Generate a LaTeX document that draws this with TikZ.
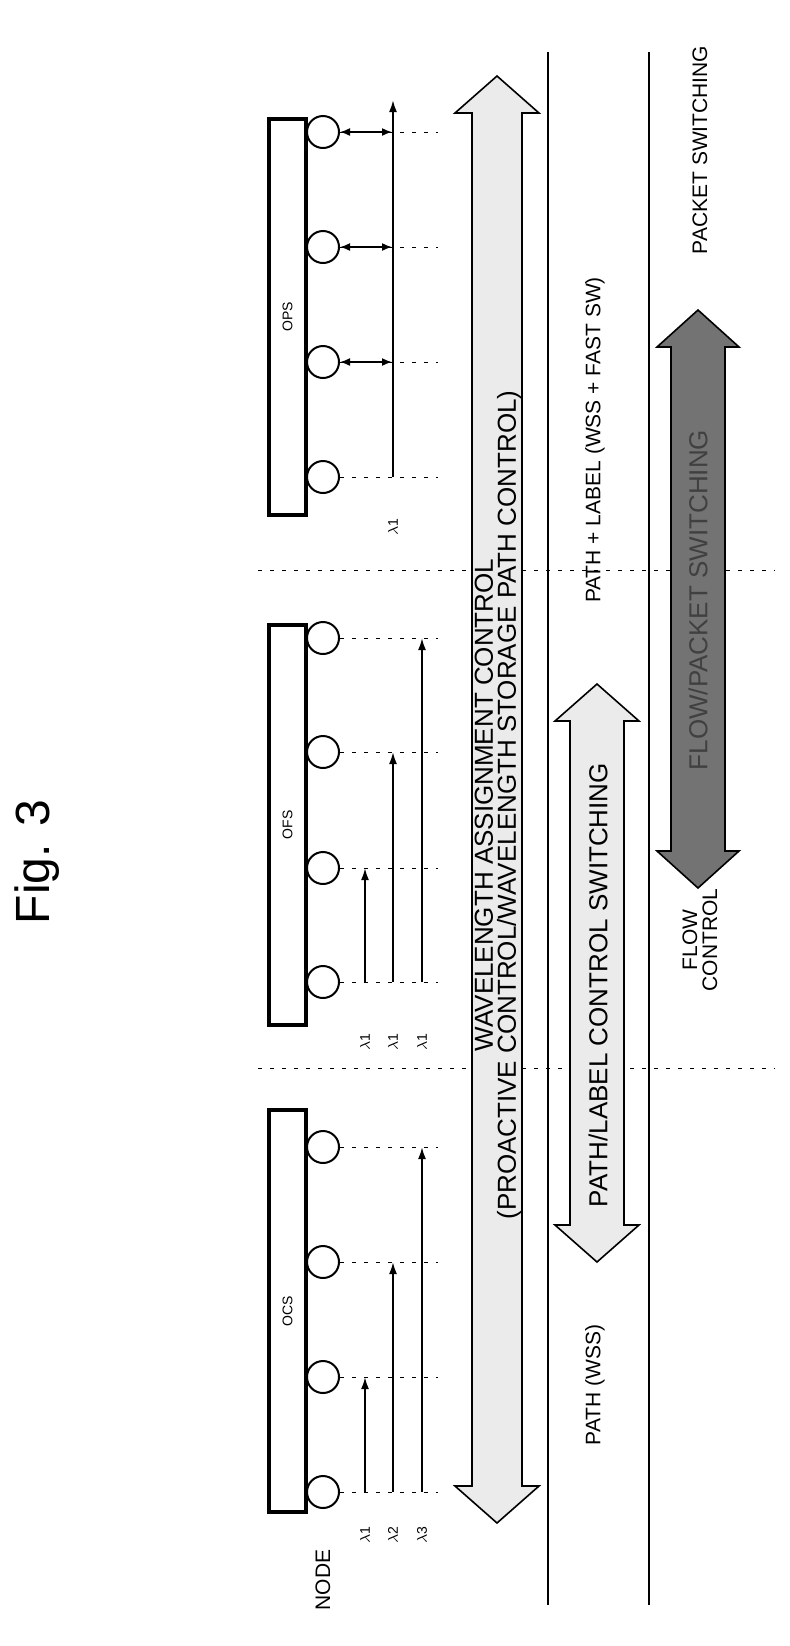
\documentclass[tikz,border=0pt]{standalone}
\usepackage{fontspec}
\setmainfont{Liberation Sans}
\usetikzlibrary{arrows.meta,positioning}

\tikzset{
  sw/.style={draw, line width=1.6pt, fill=white, minimum width=18.5pt, minimum height=#1, inner sep=0pt},
  port/.style={circle, draw, line width=1pt, fill=white, minimum size=16pt, inner sep=0pt},
  guide/.style={line width=0.4pt, dash pattern=on 2pt off 4pt},
  lam/.style={-{Latex[length=6pt,width=4pt]}, line width=1pt},
  lbl/.style={rotate=90, font=\fontsize{10.5}{10}\selectfont},
  tiny/.style={rotate=90, font=\fontsize{7}{7}\selectfont},
  big/.style={draw, line width=0.8pt},
}
% double arrow: x, top, bottom, half shaft, half head
\newcommand\dblarrow[6]{%
  \draw[big, fill=#6] ({#1-#4},{#2+37}) -- ({#1-#5},{#2+37}) -- (#1,#2) -- ({#1+#5},{#2+37})
    -- ({#1+#4},{#2+37}) -- ({#1+#4},{#3-37}) -- ({#1+#5},{#3-37}) -- (#1,#3)
    -- ({#1-#5},{#3-37}) -- ({#1-#4},{#3-37}) -- cycle;}

\begin{document}
\begin{tikzpicture}[x=0.5pt, y=-0.5pt]
  \useasboundingbox (0,0) rectangle (789,1646);

  \node[rotate=90, font=\fontsize{24}{26}\selectfont] (fig) at (37,862) {Fig. 3};

  % section borders
  \draw[guide] (258,570) -- (775,570);
  \draw[guide] (258,1068) -- (775,1068);
  \draw[line width=0.6pt] (548,52) -- (548,1605);
  \draw[line width=0.6pt] (649,52) -- (649,1605);

  % switches
  \node[sw=198pt] (ops) at (287.5,317) {};
  \node[sw=200pt] (ofs) at (287.5,825) {};
  \node[sw=201pt] (ocs) at (287.5,1311) {};
  \node[tiny] at (ops) {OPS};
  \node[tiny] at (ofs) {OFS};
  \node[tiny] at (ocs) {OCS};

  \foreach \k/\y in {1/132,2/247,3/362,4/477}
    \node[port] (p\k) at (323,\y) {};
  \foreach \k/\y in {1/638,2/752,3/868,4/982}
    \node[port] (f\k) at (323,\y) {};
  \foreach \k/\y in {1/1147,2/1262,3/1377,4/1492}
    \node[port] (c\k) at (323,\y) {};

  \foreach \n in {p,f,c}
    \foreach \k in {1,...,4}
      \draw[guide] (\n\k.east) -- ++(98,0) coordinate (\n\k e);

  % OCS / OFS wavelengths
  \foreach \n in {f,c}{
    \draw[lam] (365,0 |- \n4) -- (365,0 |- \n3);
    \draw[lam] (393,0 |- \n4) -- (393,0 |- \n2);
    \draw[lam] (422,0 |- \n4) -- (422,0 |- \n1);
  }
  % OPS
  \draw[lam] (393,0 |- p4) -- (393,100);
  \foreach \k in {1,2,3}
    \draw[{Latex[length=5pt,width=4pt]}-{Latex[length=5pt,width=4pt]}, line width=0.8pt] (p\k.east) -- (392,0 |- p\k);

  \node[tiny] at (365,1535) {$\lambda$1};
  \node[tiny] at (393,1535) {$\lambda$2};
  \node[tiny] at (422,1535) {$\lambda$3};
  \foreach \x in {365,393,422}
    \node[tiny] at (\x,1042) {$\lambda$1};
  \node[tiny] at (393,527) {$\lambda$1};
  \node[lbl] (node) at (323,1580) {NODE};

  % control ranges
  \dblarrow{497}{76}{1523}{25}{42}{black!8}
  \dblarrow{597}{684}{1262}{27}{42}{black!8}
  \dblarrow{698}{310}{888}{27}{41}{black!55}

  \node[lbl, align=center, font=\fontsize{13}{11.5}\selectfont] (wac) at (498,805)
    {WAVELENGTH ASSIGNMENT CONTROL\\(PROACTIVE CONTROL/WAVELENGTH STORAGE PATH CONTROL)};
  \node[lbl, font=\fontsize{13}{13}\selectfont] (plc) at (598,985) {PATH/LABEL CONTROL SWITCHING};
  \node[lbl, font=\fontsize{13}{13}\selectfont, text=black!75] (fps) at (698,600) {FLOW/PACKET SWITCHING};

  \node[lbl] (pw) at (595,1385) {PATH (WSS)};
  \node[lbl] (plw) at (595,440) {PATH + LABEL (WSS + FAST SW)};
  \node[lbl, align=center] (fc) at (700,940) {FLOW\\CONTROL};
  \node[lbl] (ps) at (700,150) {PACKET SWITCHING};
\end{tikzpicture}
\end{document}
